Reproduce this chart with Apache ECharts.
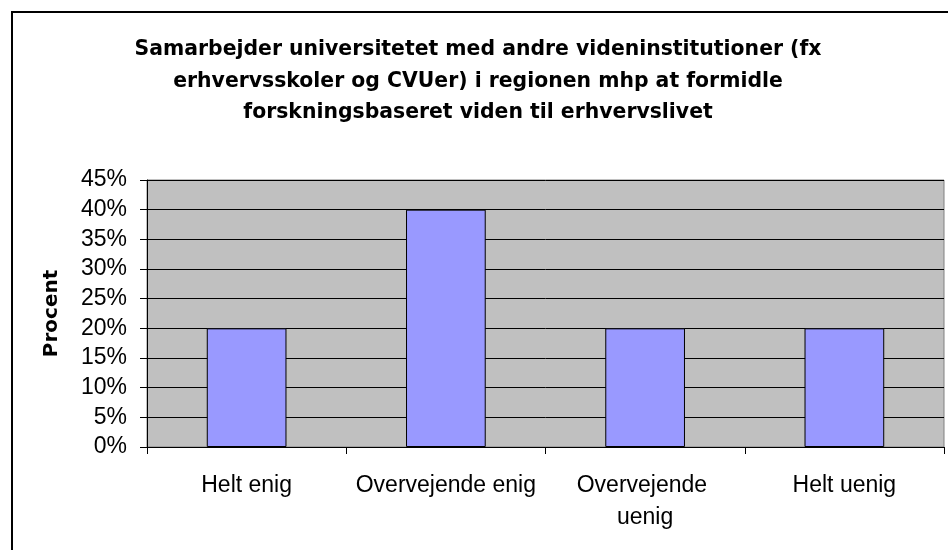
<!DOCTYPE html>
<html><head><meta charset="utf-8">
<script src="https://cdn.jsdelivr.net/npm/echarts@6/dist/echarts.min.js"></script>
<style>html,body{margin:0;padding:0;background:#fff}#c{width:948px;height:550px}</style>
</head><body><div id="c"></div>
<script>
var titleText = 'Samarbejder universitetet med andre videninstitutioner (fx\nerhvervsskoler og CVUer) i regionen mhp at formidle\nforskningsbaseret viden til erhvervslivet';
var categories = ['Helt enig', 'Overvejende enig', 'Overvejende uenig', 'Helt uenig'];
var values = [0.20, 0.40, 0.20, 0.20];
var yTicks = {min: 0, max: 0.45, interval: 0.05};
var yName = 'Procent';

var chart = echarts.init(document.getElementById('c'), null, {renderer: 'canvas'});
chart.setOption({
  animation: false,
  backgroundColor: '#fff',
  title: {
    text: titleText,
    left: 473, top: 29, textAlign: 'center',
    textStyle: {fontFamily: 'DejaVu Sans', fontWeight: 'bold', fontSize: 20.4, lineHeight: 31.5, color: '#000'}
  },
  graphic: [{
    type: 'rect', z: 100, silent: true,
    shape: {x: 12, y: 12, width: 1200, height: 1200},
    style: {fill: 'none', stroke: '#000', lineWidth: 2}
  }],
  grid: {left: 147, top: 180, right: 4, bottom: 103, show: true, backgroundColor: '#C0C0C0', borderColor: '#808080', borderWidth: 1},
  xAxis: {
    type: 'category', data: categories,
    axisLine: {lineStyle: {color: '#000', width: 1}},
    axisTick: {show: true, length: 7, lineStyle: {color: '#000'}},
    axisLabel: {
      margin: 23, interval: 0, color: '#000', fontFamily: 'Liberation Sans', fontSize: 23, lineHeight: 32,
      width: 188, overflow: 'break'
    }
  },
  yAxis: {
    type: 'value', min: yTicks.min, max: yTicks.max, interval: yTicks.interval,
    name: yName, nameLocation: 'middle', nameGap: 85, nameRotate: 90,
    nameTextStyle: {fontFamily: 'DejaVu Sans', fontWeight: 'bold', fontSize: 20, color: '#000'},
    axisLine: {show: true, lineStyle: {color: '#000', width: 1}},
    axisTick: {show: true, length: 7, lineStyle: {color: '#000'}},
    splitLine: {show: true, lineStyle: {color: '#000', width: 1}},
    axisLabel: {
      margin: 20, color: '#000', fontFamily: 'Liberation Sans', fontSize: 23,
      formatter: function (v) { return Math.round(v * 100) + '%'; }
    }
  },
  series: [{
    type: 'bar', data: values, barWidth: '40%',
    itemStyle: {color: '#9999FF', borderColor: '#000', borderWidth: 1}
  }]
});
</script></body></html>
